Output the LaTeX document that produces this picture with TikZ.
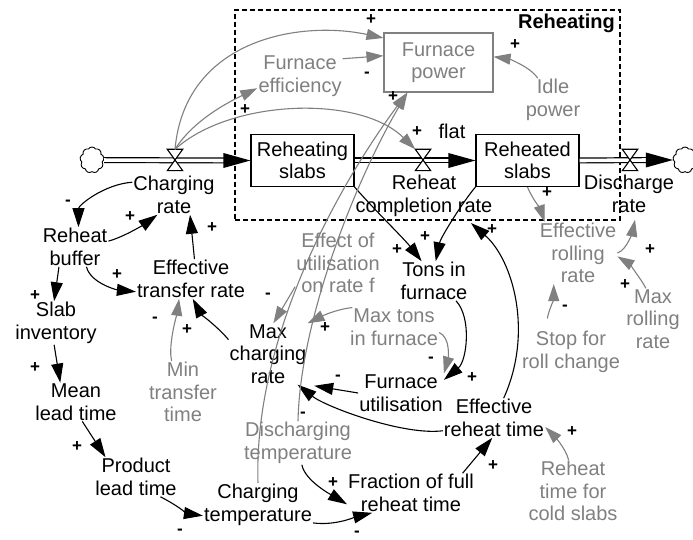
\documentclass[tikz,border=0pt]{standalone}
\usepackage{fontspec}
\setmainfont{Liberation Sans}
\usetikzlibrary{arrows.meta,shapes.symbols,calc}
\definecolor{vgray}{RGB}{128,128,128}
\begin{document}
\begin{tikzpicture}[x=1pt,y=-1pt,
  every node/.style={font=\fontsize{20}{22.5}\selectfont, align=center, inner sep=1pt},
  var/.style={text=black},
  gvar/.style={text=vgray},
  stock/.style={draw=black, line width=1.2pt, minimum width=103pt, minimum height=52pt, inner sep=0pt},
  link/.style={line width=1.1pt, draw=black, -{Triangle[length=19pt,width=12pt]}},
  glink/.style={line width=1.1pt, draw=vgray, -{Triangle[length=17pt,width=11pt]}},
  pol/.style={font=\fontsize{17}{17}\selectfont\bfseries, inner sep=0pt},
  valve/.style={minimum width=15pt, minimum height=21pt, inner sep=0pt},
  pipe/.style={double=white, double distance=3.6pt, line width=1.2pt},
  cloudsym/.style={cloud, cloud puffs=9, cloud puff arc=120, aspect=1, draw, line width=0.9pt, minimum width=24pt, minimum height=26pt, inner sep=0pt},
]
\useasboundingbox (0,0) rectangle (693,540);
\fill[white] (0,0) rectangle (693,540);

% group frame
\node[draw, line width=1.8pt, dash pattern=on 5pt off 3pt, minimum width=385pt, minimum height=210pt, inner sep=0pt] (grp) at (427.5,115) {};
\node[font=\fontsize{20}{22.5}\selectfont\bfseries, inner sep=0pt] (grplabel) at (566.5,23) {Reheating};

% stocks and boxes
\node[stock] (rs) at (302.5,160.5) {Reheating\\slabs};
\node[stock] (rds) at (527.5,160.5) {Reheated\\slabs};
\node[draw=vgray, line width=1.1pt, text=vgray, minimum width=109pt, minimum height=59pt, inner sep=0pt] (fp) at (438.5,62.5) {Furnace\\power};

% variables
\node[var] (chr) at (174,195) {Charging\\rate};
\node[var] (rb) at (75,247) {Reheat\\buffer};
\node[var] (etr) at (191,279) {Effective\\transfer rate};
\node[var] (si) at (56,323) {Slab\\inventory};
\node[var] (mlt) at (76,402) {Mean\\lead time};
\node[var] (plt) at (136,477) {Product\\lead time};
\node[var] (ct) at (258,505) {Charging\\temperature};
\node[gvar] (dt) at (298,443) {Discharging\\temperature};
\node[var] (ffrt) at (411,493) {Fraction of full\\reheat time};
\node[var] (ert) at (494,418) {Effective\\reheat time};
\node[gvar] (rtcs) at (573,491) {Reheat\\time for\\cold slabs};
\node[var] (fu) at (401,393) {Furnace\\utilisation};
\node[var] (tif) at (434,281) {Tons in\\furnace};
\node[gvar] (mtf) at (394,327) {Max tons\\in furnace};
\node[gvar] (eur) at (338,263) {Effect of\\utilisation\\on rate f};
\node[var] (mcr) at (268,354) {Max\\charging\\rate};
\node[gvar] (mtt) at (183,392) {Min\\transfer\\time};
\node[gvar] (err) at (578,253) {Effective\\rolling\\rate};
\node[gvar] (mrr) at (653,319) {Max\\rolling\\rate};
\node[gvar] (src) at (571,352) {Stop for\\roll change};
\node[var] (rcr) at (424,196) {Reheat\\completion rate};
\node[var] (dr) at (629,194) {Discharge\\rate};
\node[gvar] (fe) at (300,76) {Furnace\\efficiency};
\node[gvar] (ip) at (553,100) {Idle\\power};
\node[var] (flat) at (452,131) {flat};

% clouds, valves, pipes
\node[cloudsym] (c1) at (92,160) {};
\node[cloudsym] (c2) at (685,160) {};
\node[valve] (v1) at (175,160) {};
\node[valve] (v2) at (423,160) {};
\node[valve] (v3) at (630,160) {};

\draw[pipe] (c1) -- ($(rs.west)+(-24,0)$);
\fill (rs.west) -- ++(-27,-7.5) -- ++(0,15) -- cycle;
\draw[pipe] (rs.east) -- ($(rds.west)+(-24,0)$);
\fill (rds.west) -- ++(-27,-7.5) -- ++(0,15) -- cycle;
\draw[pipe] (rds.east) -- ($(c2.west)+(-24,0)$);
\fill (c2.west) -- ++(-27,-7.5) -- ++(0,15) -- cycle;
\foreach \v in {v1,v2,v3}
  \draw[fill=white, line width=1.1pt] (\v.north west) -- (\v.north east) -- (\v.south west) -- (\v.south east) -- cycle;

% black links
\draw[link] (chr.163) .. controls +(-28,2) and +(0,-22) .. (rb.80);
\draw[link] (rb.10) .. controls +(15,-4) and +(-14,10) .. (chr.230);
\draw[link] (rb.300) .. controls +(4,16) and +(-20,-2) .. (etr.193);
\draw[link] (etr.80) -- (chr.309);
\draw[link] (rb.231) -- (si.95);
\draw[link] (si.265) -- (mlt.129);
\draw[link] (mlt.288) -- (plt.147);
\draw[link] (plt.321) .. controls +(12,6) and +(-14,-2) .. (ct.191);
\draw[link] (dt.280) .. controls +(3,16) and +(-15,-9) .. (ffrt.190);
\draw[link] (ct.342) .. controls +(22,3) and +(-16,4) .. (ffrt.207);
\draw[link] (ffrt.21) -- (ert.265);
\draw[link, shorten >=8pt] (ert.64) .. controls +(30,-66) and +(48,42) .. (rcr.332);
\draw[link] (ert.194) .. controls +(-40,5) and +(28,22) .. (mcr.314);
\draw[link, shorten >=7pt] (fu.west) -- (mcr.322);
\draw[link] (tif.318) .. controls +(16,17) and +(23,-19) .. (fu.17);
\draw[link] (rs.south east) .. controls +(23,26) and +(-18,-23) .. (tif.122);
\draw[link] (rds.south west) .. controls +(-12,14) and +(5,-24) .. (tif.85);
\draw[link] (mcr.160) .. controls +(-10,-12) and +(8,15) .. (etr.275);

% gray links
\draw[glink] (v1.north) .. controls +(10,-110) and +(-84,-18) .. (fp.156);
\draw[glink] (fe.22) -- (fp.173);
\draw[glink] (v1.north) .. controls +(19,-30) and +(-27,13) .. (fe.196);
\draw[glink] (v1.north) .. controls +(55,-50) and +(-56,-55) .. (v2.north west);
\draw[glink] (ip.125) .. controls +(-8,-12) and +(14,2) .. (fp.6);
\draw[glink] (ct.north) .. controls +(-5,-152) and +(-62,83) .. (fp.224);
\draw[glink] (dt.north) .. controls +(2,-101) and +(-52,88) .. (fp.224);
\draw[glink] (eur.209) -- (mcr.80);
\draw[glink] (mtf.155) .. controls +(-18,2) and +(12,-6) .. (mcr.north east);
\draw[glink] (mtf.353) .. controls +(12,5) and +(4,-14) .. (fu.north east);
\draw[glink] (mtt.110) .. controls +(-4,-15) and +(-2,14) .. (etr.239);
\draw[glink] (rds.south) .. controls +(4,10) and +(-4,-12) .. (err.137);
\draw[glink, shorten >=6pt] (err.east) .. controls +(10,-3) and +(-3,15) .. (dr.290);
\draw[glink] (mrr.103) .. controls +(-5,-10) and +(10,6) .. (err.355);
\draw[glink, shorten <=12pt] (src.134) .. controls +(-3,-14) and +(0,14) .. (err.232);
\draw[glink] (rtcs.98) .. controls +(-3,-12) and +(8,8) .. (ert.350);

% polarities
\node[pol] (p1) at (68,203) {-};
\node[pol] (p2) at (130,217) {+};
\node[pol] (p3) at (212,228) {+};
\node[pol] (p4) at (117,275) {+};
\node[pol] (p5) at (35,296) {+};
\node[pol] (p6) at (35,368) {+};
\node[pol] (p7) at (77,447) {+};
\node[pol] (p8) at (180,532) {-};
\node[pol] (p9) at (333,483) {+};
\node[pol] (p10) at (357,534) {-};
\node[pol] (p11) at (493,466) {+};
\node[pol] (p12) at (492,230) {+};
\node[pol] (p13) at (303,415) {-};
\node[pol] (p14) at (338,378) {-};
\node[pol] (p15) at (472,378) {+};
\node[pol] (p16) at (431,360) {-};
\node[pol] (p17) at (325,328) {+};
\node[pol] (p18) at (268,296) {-};
\node[pol] (p19) at (187,330) {+};
\node[pol] (p20) at (155,320) {-};
\node[pol] (p21) at (397,250) {+};
\node[pol] (p22) at (425,237) {+};
\node[pol] (p23) at (371,20) {+};
\node[pol] (p24) at (367,75) {-};
\node[pol] (p25) at (245,110) {+};
\node[pol] (p26) at (417,132) {+};
\node[pol] (p27) at (515,45) {+};
\node[pol] (p28) at (393,97) {+};
\node[pol] (p29) at (547,193) {+};
\node[pol] (p30) at (650,250) {+};
\node[pol] (p31) at (625,285) {+};
\node[pol] (p32) at (565,308) {-};
\node[pol] (p33) at (572,432) {+};
\end{tikzpicture}
\end{document}
